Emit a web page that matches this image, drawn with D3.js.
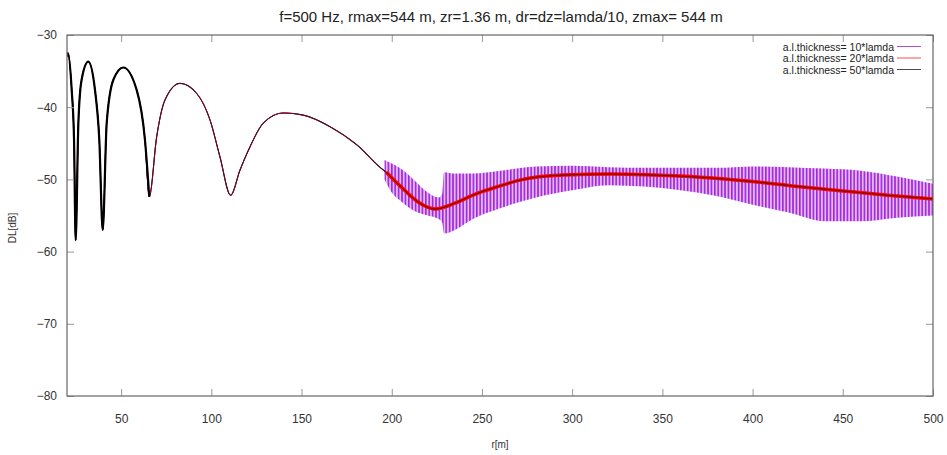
<!DOCTYPE html>
<html>
<head>
<meta charset="utf-8">
<script src="https://cdn.jsdelivr.net/npm/d3@7"></script>
<style>
    body { margin: 0; background: #fff; }
    svg { display: block; font-family: "Liberation Sans", Arial, sans-serif; }
</style>
</head>
<body>
<svg id="chart" width="947" height="455"></svg>
<script>
// ---- data ----
// common curve (all three thicknesses coincide up to ~197 m)
const nearR = [20, 20.5, 22.6, 23.9, 24.8, 26.3, 28.1, 31.8, 35.5, 37.9, 39.8, 42, 45.7, 51.2, 58.6, 63.2, 65.6,
    69.7, 74.3, 82.6, 91.9, 99.3, 104.8, 110.7, 115.9, 121.4, 128.8, 139.9, 151, 165.8, 180.6, 195.3, 197];
const nearDL = [-33.0, -32.5, -37.6, -44.5, -58.4, -42.2, -36.2, -33.7, -37.6, -44.5, -57.0, -42.2, -36.2, -34.5, -37.6, -44.5, -52.4,
    -44.1, -39.0, -36.7, -38.1, -41.8, -46.9, -52.2, -48.7, -45.5, -42.2, -40.8, -41.1, -42.7, -45.2, -48.7, -49.0];

// 20*lamda / 50*lamda beyond 197 m
const farR = [197, 205, 215, 224, 235, 243, 250, 260, 271, 295, 322, 345, 371, 400, 422, 450, 475, 500];
const farDL = [-49.0, -51.0, -53.2, -54.1, -53.3, -52.4, -51.7, -50.9, -50.1, -49.4, -49.25, -49.4, -49.7, -50.3, -50.9, -51.6, -52.2, -52.7];

// 10*lamda oscillation envelope beyond 196 m
const bandR = [196, 200, 205, 212, 220, 226, 228, 229, 235, 245, 260, 280, 300, 320, 340, 360, 380, 400, 420, 440, 460, 480, 500];
const bandTop = [-47.3, -47.8, -48.5, -50.0, -51.8, -52.5, -52.0, -49.0, -49.2, -49.2, -48.8, -48.2, -48.1, -48.3, -48.4, -48.4, -48.4, -48.2, -48.3, -48.5, -48.8, -49.6, -50.6];
const bandBottom = [-50.0, -51.8, -53.0, -54.3, -55.0, -55.5, -56.0, -57.5, -57.0, -55.5, -54.0, -52.5, -51.5, -50.8, -51.0, -51.5, -52.3, -53.5, -54.6, -55.8, -55.8, -55.3, -55.0];

const xTicks = [50, 100, 150, 200, 250, 300, 350, 400, 450, 500];
const yTicks = [-30, -40, -50, -60, -70, -80];

const legendLabels = ["a.l.thickness= 10*lamda", "a.l.thickness= 20*lamda", "a.l.thickness= 50*lamda"];
const seriesColors = ["#9400d3", "#ff0000", "#000000"];

// ---- layout ----
const margin = { left: 67, right: 14, top: 35, bottom: 59 };
const width = 947, height = 455;
const svg = d3.select("#chart");

const x = d3.scaleLinear().domain([20, 500]).range([margin.left, width - margin.right]);
const y = d3.scaleLinear().domain([-80, -30]).range([height - margin.bottom, margin.top]);

const zip = (a, b) => a.map((v, i) => [v, b[i]]);
const line = d3.line().x(d => x(d[0])).y(d => y(d[1])).curve(d3.curveMonotoneX);

// stripe pattern to mimic the dense oscillation of the 10*lamda curve
const defs = svg.append("defs");
const pat = defs.append("pattern")
    .attr("id", "osc")
    .attr("patternUnits", "userSpaceOnUse")
    .attr("width", 3.4)
    .attr("height", 10);
pat.append("rect").attr("width", 3.4).attr("height", 10).attr("fill", "#9400d3").attr("fill-opacity", 0.28);
pat.append("rect").attr("width", 1.6).attr("height", 10).attr("fill", "#9400d3").attr("fill-opacity", 0.8);

defs.append("clipPath").attr("id", "plotClip")
    .append("rect")
    .attr("x", margin.left).attr("y", margin.top)
    .attr("width", width - margin.left - margin.right)
    .attr("height", height - margin.top - margin.bottom);

// ---- series ----
const plot = svg.append("g").attr("clip-path", "url(#plotClip)");

// 10*lamda
plot.append("path")
    .datum(zip(nearR, nearDL))
    .attr("d", line)
    .attr("fill", "none")
    .attr("stroke", seriesColors[0])
    .attr("stroke-width", 1);

const area = d3.area()
    .x(d => x(d.r))
    .y0(d => y(d.lo))
    .y1(d => y(d.hi))
    .curve(d3.curveMonotoneX);

plot.append("path")
    .datum(bandR.map((r, i) => ({ r: r, hi: bandTop[i], lo: bandBottom[i] })))
    .attr("d", area)
    .attr("fill", "url(#osc)");

// 20*lamda
plot.append("path")
    .datum(zip(nearR, nearDL))
    .attr("d", line)
    .attr("fill", "none")
    .attr("stroke", seriesColors[1])
    .attr("stroke-width", 1);

plot.append("path")
    .datum(zip(farR, farDL))
    .attr("d", line)
    .attr("fill", "none")
    .attr("stroke", seriesColors[1])
    .attr("stroke-width", 3.5);

// 50*lamda on top
plot.append("path")
    .datum(zip(nearR, nearDL))
    .attr("d", line)
    .attr("fill", "none")
    .attr("stroke", "#3a1a1e")
    .attr("stroke-width", 1.1);

// the first lobes look heavier (fine ripple at short range)
const heavy = nearR.map((r, i) => [r, nearDL[i]]).filter(d => d[0] <= 65.6);
plot.append("path")
    .datum(heavy)
    .attr("d", line)
    .attr("fill", "none")
    .attr("stroke", seriesColors[2])
    .attr("stroke-width", 2.2);

plot.append("path")
    .datum(zip(farR, farDL))
    .attr("d", line)
    .attr("fill", "none")
    .attr("stroke", seriesColors[2])
    .attr("stroke-width", 0.9)
    .attr("stroke-opacity", 0.7);

// ---- axes (gnuplot-style inward ticks on all sides) ----
const tickLen = 7;
const axisColor = "#666";
const labelColor = "#333";

svg.append("g")
    .attr("transform", `translate(0,${y(-80)})`)
    .call(d3.axisBottom(x).tickValues(xTicks).tickSizeInner(-tickLen).tickSizeOuter(0).tickPadding(18))
    .call(g => g.select(".domain").remove())
    .call(g => g.selectAll("line").attr("stroke", "#999"))
    .call(g => g.selectAll("text").attr("fill", labelColor).attr("font-size", 12)
        .attr("font-family", "'Liberation Sans', Arial, sans-serif"));

svg.append("g")
    .attr("transform", `translate(0,${y(-30)})`)
    .call(d3.axisTop(x).tickValues(xTicks).tickSizeInner(-tickLen).tickSizeOuter(0).tickFormat(""))
    .call(g => g.select(".domain").remove())
    .call(g => g.selectAll("line").attr("stroke", "#999"));

svg.append("g")
    .attr("transform", `translate(${x(20)},0)`)
    .call(d3.axisLeft(y).tickValues(yTicks).tickSizeInner(-tickLen).tickSizeOuter(0).tickPadding(10))
    .call(g => g.select(".domain").remove())
    .call(g => g.selectAll("line").attr("stroke", "#999"))
    .call(g => g.selectAll("text").attr("fill", labelColor).attr("font-size", 12)
        .attr("font-family", "'Liberation Sans', Arial, sans-serif"));

svg.append("g")
    .attr("transform", `translate(${x(500)},0)`)
    .call(d3.axisRight(y).tickValues(yTicks).tickSizeInner(-tickLen).tickSizeOuter(0).tickFormat(""))
    .call(g => g.select(".domain").remove())
    .call(g => g.selectAll("line").attr("stroke", "#999"));

// frame
svg.append("rect")
    .attr("x", x(20)).attr("y", y(-30))
    .attr("width", x(500) - x(20))
    .attr("height", y(-80) - y(-30))
    .attr("fill", "none")
    .attr("stroke", axisColor)
    .attr("stroke-width", 1.2);

// ---- titles ----
svg.append("text")
    .attr("x", 501).attr("y", 22)
    .attr("text-anchor", "middle")
    .attr("font-size", 15)
    .attr("fill", "#222")
    .text("f=500 Hz, rmax=544 m, zr=1.36 m, dr=dz=lamda/10, zmax= 544 m");

svg.append("text")
    .attr("x", (x(20) + x(500)) / 2).attr("y", 448)
    .attr("text-anchor", "middle")
    .attr("font-size", 10)
    .attr("fill", labelColor)
    .text("r[m]");

svg.append("text")
    .attr("transform", `translate(16,228) rotate(-90)`)
    .attr("text-anchor", "middle")
    .attr("font-size", 10)
    .attr("fill", labelColor)
    .text("DL[dB]");

// ---- legend ----
const legend = svg.append("g").attr("transform", "translate(894,0)");
legendLabels.forEach((label, i) => {
    const ly = 47 + i * 11.5;
    legend.append("text")
        .attr("x", 0).attr("y", ly + 3.5)
        .attr("text-anchor", "end")
        .attr("font-size", 10.5)
        .attr("fill", "#222")
        .text(label);
    legend.append("line")
        .attr("x1", 3).attr("x2", 27)
        .attr("y1", ly - 0.5).attr("y2", ly - 0.5)
        .attr("stroke", seriesColors[i])
        .attr("stroke-opacity", 0.7)
        .attr("stroke-width", 1);
});
</script>
</body>
</html>
